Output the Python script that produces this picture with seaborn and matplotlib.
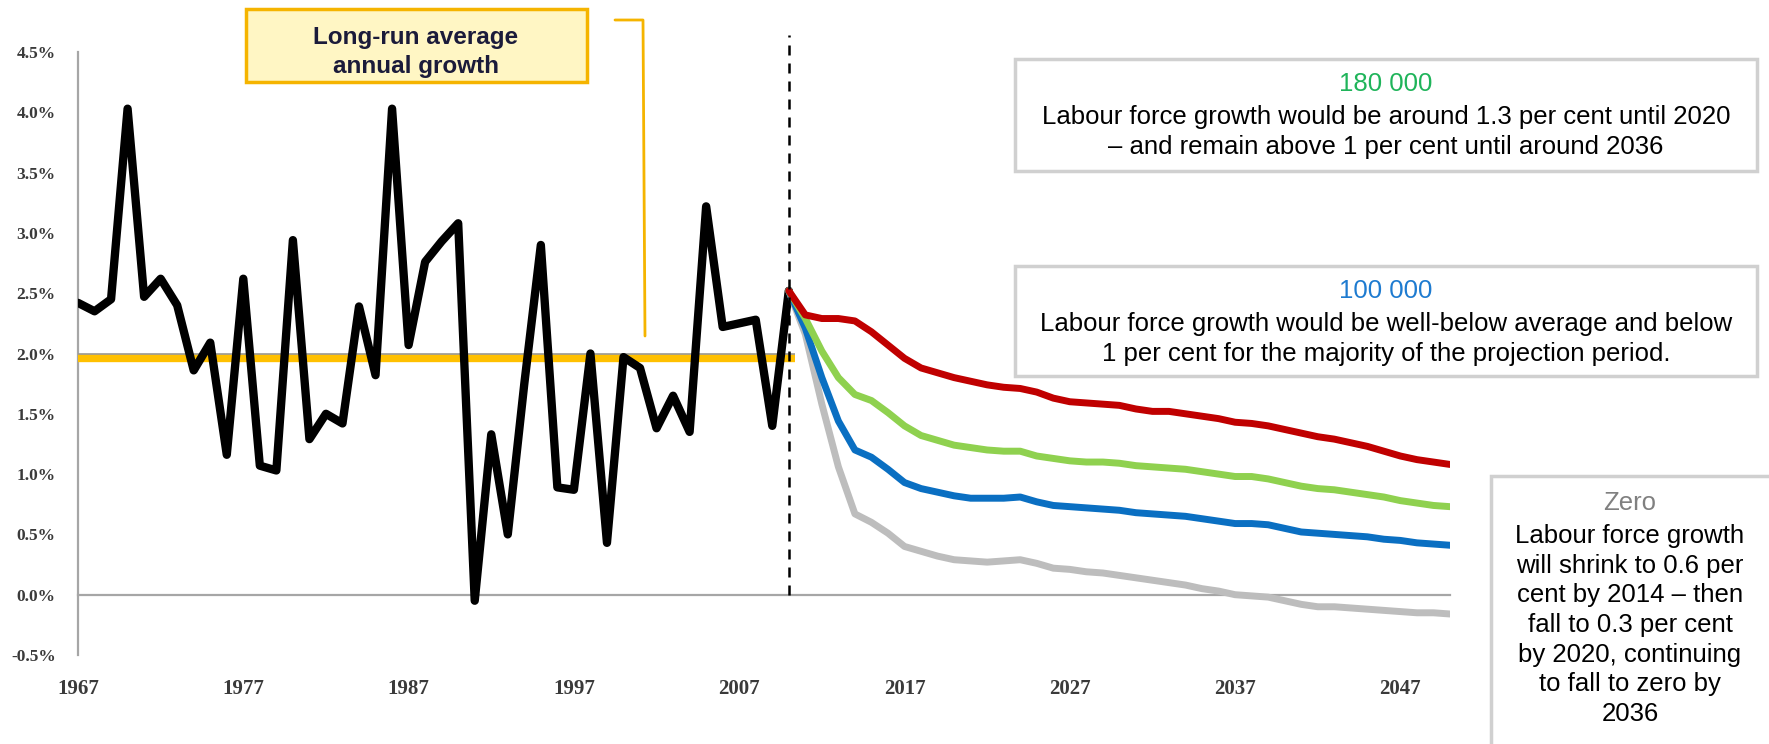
import matplotlib
matplotlib.use("Agg")
import numpy as np
import pandas as pd
import matplotlib.pyplot as plt
import seaborn as sns
from matplotlib.patches import Rectangle
from matplotlib.lines import Line2D
from matplotlib.ticker import FuncFormatter

# Croissance annuelle de la population active (%) - historique
hist_years = list(range(1967, 2011))
hist_growth = [2.42, 2.35, 2.45, 4.03, 2.47, 2.62, 2.40, 1.86, 2.09, 1.16,
               2.62, 1.07, 1.03, 2.94, 1.29, 1.50, 1.42, 2.39, 1.82, 4.03,
               2.07, 2.76, 2.93, 3.08, -0.05, 1.33, 0.50, 1.75, 2.90, 0.89,
               0.87, 2.00, 0.43, 1.97, 1.88, 1.38, 1.65, 1.35, 3.22, 2.22,
               2.25, 2.28, 1.40, 2.52]
long_run_avg = 1.96

# Projections par scénario migratoire
proj_years = list(range(2010, 2051))
proj_high = [2.52, 2.32, 2.29, 2.29, 2.27, 2.18, 2.07, 1.96, 1.88, 1.84,
             1.80, 1.77, 1.74, 1.72, 1.71, 1.68, 1.63, 1.60, 1.59, 1.58,
             1.57, 1.54, 1.52, 1.52, 1.50, 1.48, 1.46, 1.43, 1.42, 1.40,
             1.37, 1.34, 1.31, 1.29, 1.26, 1.23, 1.19, 1.15, 1.12, 1.10, 1.08]
proj_180k = [2.52, 2.29, 2.02, 1.80, 1.66, 1.61, 1.51, 1.40, 1.32, 1.28,
             1.24, 1.22, 1.20, 1.19, 1.19, 1.15, 1.13, 1.11, 1.10, 1.10,
             1.09, 1.07, 1.06, 1.05, 1.04, 1.02, 1.00, 0.98, 0.98, 0.96,
             0.93, 0.90, 0.88, 0.87, 0.85, 0.83, 0.81, 0.78, 0.76, 0.74, 0.73]
proj_100k = [2.52, 2.21, 1.80, 1.44, 1.20, 1.14, 1.04, 0.93, 0.88, 0.85,
             0.82, 0.80, 0.80, 0.80, 0.81, 0.77, 0.74, 0.73, 0.72, 0.71,
             0.70, 0.68, 0.67, 0.66, 0.65, 0.63, 0.61, 0.59, 0.59, 0.58,
             0.55, 0.52, 0.51, 0.50, 0.49, 0.48, 0.46, 0.45, 0.43, 0.42, 0.41]
proj_zero = [2.52, 2.16, 1.58, 1.06, 0.67, 0.60, 0.51, 0.40, 0.36, 0.32,
             0.29, 0.28, 0.27, 0.28, 0.29, 0.26, 0.22, 0.21, 0.19, 0.18,
             0.16, 0.14, 0.12, 0.10, 0.08, 0.05, 0.03, 0.00, -0.01, -0.02,
             -0.05, -0.08, -0.10, -0.10, -0.11, -0.12, -0.13, -0.14, -0.15, -0.15, -0.16]

scenario_names = ["Zero", "100 000", "180 000", "High"]
scenario_values = [proj_zero, proj_100k, proj_180k, proj_high]
scenario_colors = ["#BDBDBD", "#0A6FC2", "#8FD14F", "#C00000"]

x_ticks = list(range(1967, 2048, 10))
y_ticks = [-0.5, 0.0, 0.5, 1.0, 1.5, 2.0, 2.5, 3.0, 3.5, 4.0, 4.5]

W, H = 1769, 744


def fx(px):
    return px / W


def fy(py):
    return 1 - py / H


sns.set_style("white")
plt.rcParams["font.family"] = ["Liberation Sans", "DejaVu Sans"]

fig = plt.figure(figsize=(W / 100, H / 100), dpi=100)
ax = fig.add_axes([fx(78), fy(655), fx(1450) - fx(78), fy(52) - fy(655)])

# Moyenne de long terme
ax.hlines(long_run_avg, 1967, 2010.4, color="#FFC000", lw=6, zorder=3)
ax.hlines(2.0, 1967, 2010.4, color="#9A9A9A", lw=1.2, zorder=3.5)

# Série historique
sns.lineplot(x=hist_years, y=hist_growth, ax=ax, color="black", lw=6,
             solid_capstyle="round", solid_joinstyle="round", zorder=4)

# Projections
df = pd.DataFrame({
    "year": proj_years * len(scenario_names),
    "growth": sum(scenario_values, []),
    "scenario": np.repeat(scenario_names, len(proj_years)),
})
sns.lineplot(data=df, x="year", y="growth", hue="scenario",
             hue_order=scenario_names, palette=scenario_colors, lw=5,
             legend=False, ax=ax, solid_capstyle="round", zorder=5)

# Ligne verticale pointillée (début des projections)
ax.axvline(2010, ymin=0.1, ymax=1.028, color="black", lw=1.8,
           ls=(0, (4, 3.2)), clip_on=False, zorder=6)

ax.set_xlim(1967, 2050)
ax.set_ylim(-0.5, 4.5)
ax.set_xlabel("")
ax.set_ylabel("")

sns.despine(ax=ax)
axis_grey = "#A6A6A6"
ax.spines["left"].set_color(axis_grey)
ax.spines["left"].set_linewidth(1.6)
ax.spines["bottom"].set_color(axis_grey)
ax.spines["bottom"].set_linewidth(1.6)
ax.spines["bottom"].set_position(("data", 0))

ax.set_xticks(x_ticks)
ax.set_yticks(y_ticks)
ax.yaxis.set_major_formatter(FuncFormatter(lambda v, p: f"{v:.1f}%"))
ax.tick_params(axis="x", direction="out", length=5, width=1.2,
               color=axis_grey, pad=56, labelsize=15, labelcolor="#3A3A3A")
ax.tick_params(axis="y", direction="out", length=5, width=1.2,
               color=axis_grey, pad=11, labelsize=12.5, labelcolor="#3A3A3A")
for lab in ax.get_xticklabels() + ax.get_yticklabels():
    lab.set_family(["Liberation Serif", "DejaVu Serif"])
    lab.set_fontweight("bold")

# Encadré « moyenne de long terme »
fig.patches.append(Rectangle((fx(246), fy(82)), fx(587) - fx(246), fy(9) - fy(82),
                             transform=fig.transFigure, facecolor="#FFF6C4",
                             edgecolor="#F5B400", lw=2.5, zorder=1))
fig.text(fx(416), fy(52), "Long-run average\nannual growth", ha="center",
         va="center", fontsize=17.5, fontweight="bold", color="#1B1B3A",
         linespacing=1.3)
fig.lines.append(Line2D([fx(615), fx(643), fx(645)], [fy(20), fy(20), fy(336)],
                        transform=fig.transFigure, color="#F5B400", lw=2))

# Encadrés des scénarios
box_edge = "#D0D0D0"
body_size = 18.5


def scenario_box(x0, y0, x1, y1, cx, head, head_y, head_color, body, body_y):
    fig.patches.append(Rectangle((fx(x0), fy(y1)), fx(x1) - fx(x0), fy(y0) - fy(y1),
                                 transform=fig.transFigure, facecolor="white",
                                 edgecolor=box_edge, lw=2.5, zorder=1))
    fig.text(fx(cx), fy(head_y), head, ha="center", va="center",
             fontsize=body_size, color=head_color)
    fig.text(fx(cx), fy(body_y), body, ha="center", va="center",
             fontsize=body_size, color="black", linespacing=1.3)


scenario_box(1015, 59, 1757, 171, 1386, "180 000", 84, "#1FB45A",
             "Labour force growth would be around 1.3 per cent until 2020\n"
             "\u2013 and remain above 1 per cent until around 2036", 132)
scenario_box(1015, 266, 1757, 376, 1386, "100 000", 291, "#1E7BD0",
             "Labour force growth would be well-below average and below\n"
             "1 per cent for the majority of the projection period.", 339)
scenario_box(1491, 476, 1790, 770, 1630, "Zero", 503, "#808080",
             "Labour force growth\nwill shrink to 0.6 per\ncent by 2014 \u2013 then\n"
             "fall to 0.3 per cent\nby 2020, continuing\nto fall to zero by\n2036", 625)

fig.savefig("out.png", dpi=100)
